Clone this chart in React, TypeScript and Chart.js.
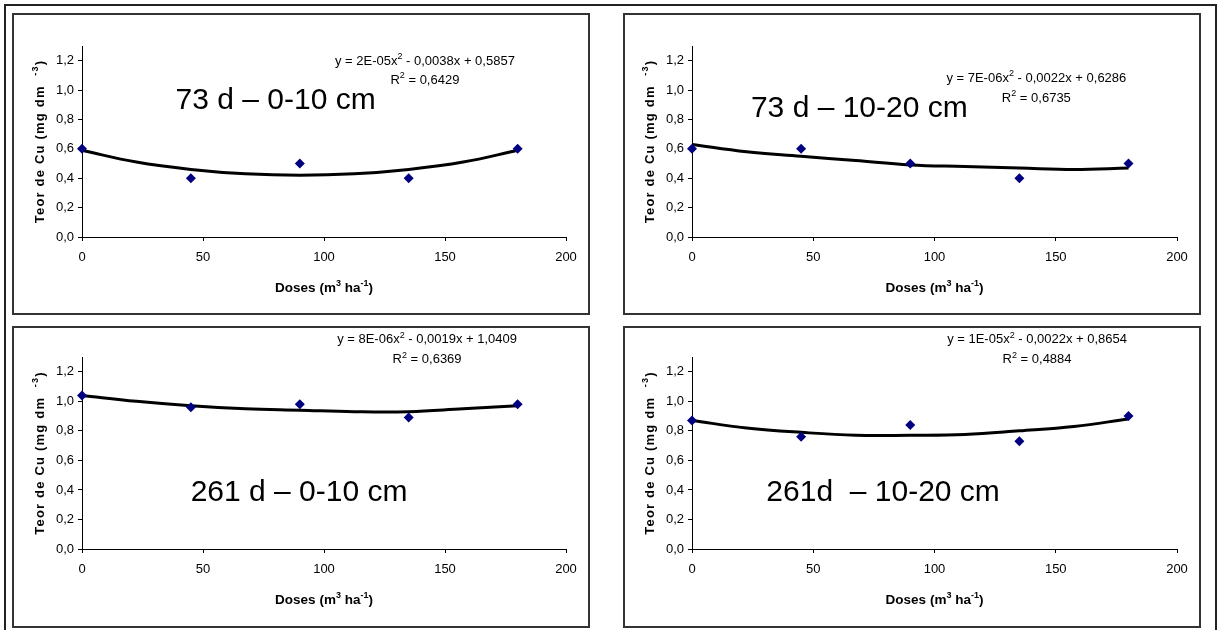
import React, { useEffect, useRef } from 'react';
import { Chart, registerables } from 'chart.js';

Chart.register(...registerables);

// ---------- data ----------
const doses = [0, 45, 90, 135, 180];
const trendDoses = [0, 22.5, 45, 67.5, 90, 112.5, 135, 157.5, 180];

const cu73d0to10 = [0.6, 0.4, 0.5, 0.4, 0.6];
const cu73d10to20 = [0.6, 0.6, 0.5, 0.4, 0.5];
const cu261d0to10 = [1.04, 0.96, 0.98, 0.89, 0.98];
const cu261d10to20 = [0.87, 0.76, 0.84, 0.73, 0.9];

const trend73d0to10 = [0.59, 0.51, 0.46, 0.43, 0.42, 0.43, 0.46, 0.51, 0.59];
const trend73d10to20 = [0.63, 0.58, 0.55, 0.52, 0.49, 0.48, 0.47, 0.46, 0.47];
const trend261d0to10 = [1.04, 1.0, 0.97, 0.95, 0.94, 0.93, 0.93, 0.95, 0.97];
const trend261d10to20 = [0.87, 0.82, 0.79, 0.77, 0.77, 0.775, 0.8, 0.83, 0.88];

const xTickValues = [0, 50, 100, 150, 200];
const xTickLabels = ['0', '50', '100', '150', '200'];
const yTickValues = [0, 0.2, 0.4, 0.6, 0.8, 1.0, 1.2];
const yTickLabels = ['0,0', '0,2', '0,4', '0,6', '0,8', '1,0', '1,2'];

const panelTitles = ['73 d \u2013 0-10 cm', '73 d \u2013 10-20 cm', '261 d \u2013 0-10 cm', '261d  \u2013 10-20 cm'];
const eqBefore = ['y = 2E-05x', 'y = 7E-06x', 'y = 8E-06x', 'y = 1E-05x'];
const eqAfter = [' - 0,0038x + 0,5857', ' - 0,0022x + 0,6286', ' - 0,0019x + 1,0409', ' - 0,0022x + 0,8654'];
const r2Values = ['0,6429', '0,6735', '0,6369', '0,4884'];

const xTitleParts = [
  { t: 'Doses (m' },
  { t: '3', sup: true },
  { t: ' ha' },
  { t: '-1', sup: true },
  { t: ')' },
];
const yTitleParts = [
  { t: 'Teor de Cu (mg dm  ' },
  { t: '-3', sup: true },
  { t: ')' },
];

// ---------- layout (positions / styles) ----------
const FONT = "'Liberation Sans', Arial, Helvetica, sans-serif";

type Layout = {
  left: number; top: number;
  yWidth: number; padRight: number; padTop: number; xHeight: number;
  yTitleX: number; xTitleY: number;
  titlePos: [number, number]; eqPos: [number, number]; r2Pos: [number, number];
};

const W = 574;
const H = 298;

const layouts: Layout[] = [
  { left: 14, top: 15, yWidth: 68, padRight: 22, padTop: 31, xHeight: 76, yTitleX: 25, xTitleY: 272,
    titlePos: [80, 0.946], eqPos: [141.7, 1.205], r2Pos: [141.7, 1.076] },
  { left: 625, top: 15, yWidth: 67, padRight: 22, padTop: 31, xHeight: 76, yTitleX: 24, xTitleY: 272,
    titlePos: [69, 0.892], eqPos: [142, 1.089], r2Pos: [142, 0.953] },
  { left: 14, top: 328, yWidth: 68, padRight: 22, padTop: 29, xHeight: 77, yTitleX: 25, xTitleY: 271,
    titlePos: [89.7, 0.4], eqPos: [142.6, 1.424], r2Pos: [142.6, 1.288] },
  { left: 625, top: 328, yWidth: 67, padRight: 22, padTop: 29, xHeight: 77, yTitleX: 24, xTitleY: 271,
    titlePos: [78.8, 0.4], eqPos: [142.3, 1.424], r2Pos: [142.3, 1.288] },
];

const panelPoints = [cu73d0to10, cu73d10to20, cu261d0to10, cu261d10to20];
const panelTrends = [trend73d0to10, trend73d10to20, trend261d0to10, trend261d10to20];

type Part = { t: string; sup?: boolean };

function drawRich(
  ctx: CanvasRenderingContext2D,
  parts: Part[],
  x: number,
  y: number,
  size: number,
  bold: boolean,
  spacing = 0,
) {
  const supSize = Math.round(size * 0.68);
  const fontFor = (sup?: boolean) => `${bold ? 'bold ' : ''}${sup ? supSize : size}px ${FONT}`;
  (ctx as any).letterSpacing = `${spacing}px`;
  const widths = parts.map((p) => {
    ctx.font = fontFor(p.sup);
    return ctx.measureText(p.t).width;
  });
  const total = widths.reduce((a, b) => a + b, 0);
  let cx = x - total / 2;
  const base = y + size * 0.358;
  ctx.textAlign = 'left';
  ctx.textBaseline = 'alphabetic';
  ctx.fillStyle = '#000';
  parts.forEach((p, i) => {
    ctx.font = fontFor(p.sup);
    ctx.fillText(p.t, cx, p.sup ? base - size * 0.4 : base);
    cx += widths[i];
  });
  (ctx as any).letterSpacing = '0px';
}

function Panel({ idx }: { idx: number }) {
  const ref = useRef<HTMLCanvasElement | null>(null);
  const L = layouts[idx];

  useEffect(() => {
    if (!ref.current) return;
    const textPlugin = {
      id: 'panelText',
      afterDraw(chart: any) {
        const ctx: CanvasRenderingContext2D = chart.ctx;
        const xs = chart.scales.x;
        const ys = chart.scales.y;
        const ca = chart.chartArea;
        ctx.save();
        drawRich(ctx, [{ t: panelTitles[idx] }], xs.getPixelForValue(L.titlePos[0]), ys.getPixelForValue(L.titlePos[1]), 30, false);
        drawRich(
          ctx,
          [{ t: eqBefore[idx] }, { t: '2', sup: true }, { t: eqAfter[idx] }],
          xs.getPixelForValue(L.eqPos[0]),
          ys.getPixelForValue(L.eqPos[1]),
          13,
          false,
        );
        drawRich(
          ctx,
          [{ t: 'R' }, { t: '2', sup: true }, { t: ' = ' + r2Values[idx] }],
          xs.getPixelForValue(L.r2Pos[0]),
          ys.getPixelForValue(L.r2Pos[1]),
          13,
          false,
        );
        drawRich(ctx, xTitleParts, (ca.left + ca.right) / 2, L.xTitleY, 13.5, true);
        ctx.save();
        ctx.translate(L.yTitleX, (ca.top + ca.bottom) / 2);
        ctx.rotate(-Math.PI / 2);
        drawRich(ctx, yTitleParts, 0, 0, 13, true, 1.2);
        ctx.restore();
        ctx.restore();
      },
    };

    const tickFont = { family: FONT, size: 13 };
    const chart = new Chart(ref.current, {
      type: 'scatter',
      data: {
        datasets: [
          {
            data: panelPoints[idx].map((v, i) => ({ x: doses[i], y: v })),
            pointStyle: 'rectRot',
            pointRadius: 5,
            backgroundColor: '#000080',
            borderColor: '#000080',
            borderWidth: 0,
            showLine: false,
            clip: false,
            order: 0,
          } as any,
          {
            data: trendDoses.map((x, i) => ({ x, y: panelTrends[idx][i] })),
            showLine: true,
            pointRadius: 0,
            borderColor: '#000',
            backgroundColor: '#000',
            borderWidth: 3,
            tension: 0.4,
            fill: false,
            clip: false,
            order: 1,
          } as any,
        ],
      },
      options: {
        responsive: false,
        animation: false,
        devicePixelRatio: 1,
        events: [],
        layout: { padding: { left: 0, right: L.padRight, top: L.padTop, bottom: 0 } },
        plugins: { legend: { display: false }, tooltip: { enabled: false }, title: { display: false } },
        scales: {
          x: {
            type: 'linear',
            min: 0,
            max: 200,
            afterBuildTicks: (s: any) => {
              s.ticks = xTickValues.map((v) => ({ value: v }));
            },
            afterFit: (s: any) => {
              s.height = L.xHeight;
            },
            ticks: {
              autoSkip: false,
              maxRotation: 0,
              padding: 9,
              color: '#000',
              font: tickFont,
              callback: (v: any) => {
                const i = xTickValues.indexOf(Number(v));
                return i >= 0 ? xTickLabels[i] : '';
              },
            },
            grid: { display: true, drawOnChartArea: false, drawTicks: true, tickLength: 4, color: '#000', lineWidth: 1 },
            border: { display: true, color: '#000', width: 1 },
          },
          y: {
            type: 'linear',
            min: 0,
            max: 1.3,
            afterBuildTicks: (s: any) => {
              s.ticks = yTickValues.map((v) => ({ value: v }));
            },
            afterFit: (s: any) => {
              s.width = L.yWidth;
            },
            ticks: {
              autoSkip: false,
              padding: 4,
              color: '#000',
              font: tickFont,
              callback: (v: any) => {
                const i = yTickValues.findIndex((t) => Math.abs(t - Number(v)) < 1e-6);
                return i >= 0 ? yTickLabels[i] : '';
              },
            },
            grid: { display: true, drawOnChartArea: false, drawTicks: true, tickLength: 4, color: '#000', lineWidth: 1 },
            border: { display: true, color: '#000', width: 1 },
          },
        },
      } as any,
      plugins: [textPlugin],
    });
    return () => chart.destroy();
  }, [idx]);

  return (
    <>
      <canvas
        ref={ref}
        width={W}
        height={H}
        style={{ position: 'absolute', left: L.left, top: L.top, width: W, height: H }}
      />
      <div
        style={{
          position: 'absolute',
          left: L.left - 2,
          top: L.top - 2,
          width: W + 4,
          height: H + 4,
          boxSizing: 'border-box',
          border: '2px solid #333',
          pointerEvents: 'none',
        }}
      />
    </>
  );
}

export default function App() {
  return (
    <div
      style={{
        position: 'absolute',
        left: 0,
        top: 0,
        width: 1218,
        height: 630,
        background: '#fff',
        overflow: 'hidden',
      }}
    >
      <div
        style={{
          position: 'absolute',
          left: 4,
          top: 4,
          width: 1213,
          height: 640,
          boxSizing: 'border-box',
          border: '2px solid #222',
        }}
      />
      {[0, 1, 2, 3].map((i) => (
        <Panel key={i} idx={i} />
      ))}
    </div>
  );
}
